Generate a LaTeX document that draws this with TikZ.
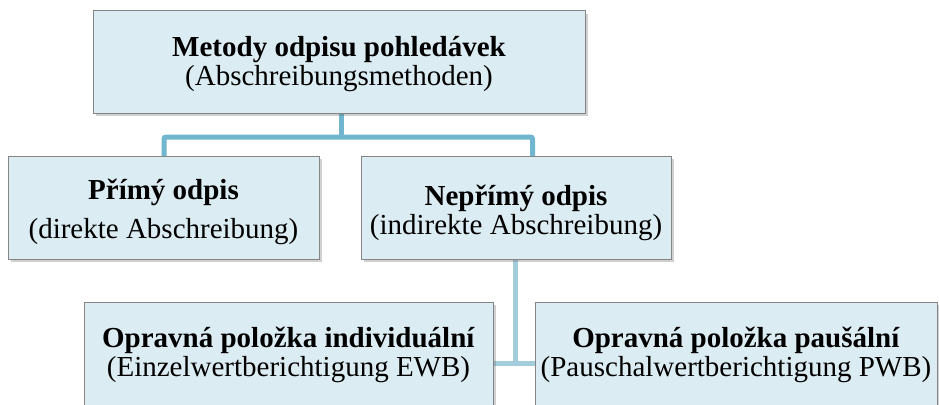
\documentclass[tikz,border=0pt]{standalone}
\usepackage{fontspec}
\setmainfont{Liberation Serif}
\usetikzlibrary{shadows}
\definecolor{boxfill}{HTML}{DBECF2}
\definecolor{boxline}{HTML}{858585}
\definecolor{connA}{HTML}{6FB6CE}
\definecolor{connB}{HTML}{A3CCDC}
\tikzset{
  box/.style={draw=boxline, line width=1pt, fill=boxfill, inner sep=0pt,
    drop shadow={shadow xshift=2.5pt, shadow yshift=-3pt, opacity=0.3, fill=black!60}},
  txt/.style={inner sep=0pt, align=center, font=\fontsize{29}{29}\selectfont},
  connA/.style={draw=connA, line width=5pt, rounded corners=2pt},
  connB/.style={draw=connB, line width=5pt}
}
\begin{document}
\begin{tikzpicture}[x=1pt, y=-1pt]
\useasboundingbox (0,0) rectangle (939,404);
\fill[white] (0,0) rectangle (939,404);
\begin{scope}
\clip (0,0) rectangle (939,404);
% connectors
\coordinate (j) at (341.5,137);
\coordinate (k) at (515.5,363.5);
\coordinate (r) at (532.5,156);
\coordinate (t) at (341.5,113);
\coordinate (lt) at (164,156);
\coordinate (ms) at (515.5,259);
\draw[connA] (t) -- (j);
\draw[connA] (lt) -- (lt |- j) -- (r |- j) -- (r);
\draw[connB] (ms) -- (k);
\draw[connB] (493,363.5) -- (535,363.5);
% boxes
\node[box, minimum width=492pt, minimum height=102pt] (top) at (339,62) {};
\node[box, minimum width=311pt, minimum height=103pt] (left) at (163.5,207.5) {};
\node[box, minimum width=310pt, minimum height=103pt] (mid) at (516,207.5) {};
\node[box, minimum width=409pt, minimum height=103pt] (bl) at (288.5,353.5) {};
\node[box, minimum width=402pt, minimum height=103pt] (br) at (736,353.5) {};
% texts
\node[txt] (topt) at ([yshift=-2.5pt]top.center)
  {\textbf{Metody odpisu pohledávek}\\(Abschreibungsmethoden)};
\node[txt] (leftt) at ([yshift=-4pt]left.center)
  {\textbf{Přímý odpis}\\[10pt](direkte Abschreibung)};
\node[txt] (midt) at ([yshift=-5pt]mid.center)
  {\textbf{Nepřímý odpis}\\(indirekte Abschreibung)};
\node[txt] (blt) at ([yshift=-1pt]bl.center)
  {\textbf{Opravná položka individuální}\\(Einzelwertberichtigung EWB)};
\node[txt] (brt) at ([yshift=-1pt]br.center)
  {\textbf{Opravná položka paušální}\\(Pauschalwertberichtigung PWB)};
\end{scope}
\end{tikzpicture}
\end{document}
